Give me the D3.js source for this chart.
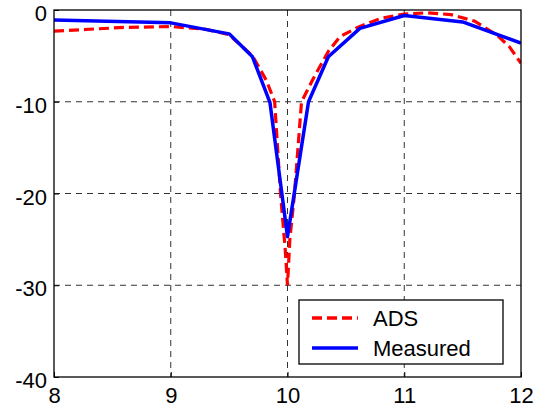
<!DOCTYPE html>
<html><head><meta charset="utf-8">
<script src="https://cdn.jsdelivr.net/npm/d3@7"></script>
<style>body{margin:0;background:#fff}text{font-family:"Liberation Sans",Arial,sans-serif}</style>
</head><body>
<svg id="c" width="541" height="410"></svg>
<script>
const xTicks = [8, 9, 10, 11, 12];
const yTicks = [0, -10, -20, -30, -40];
const adsX = [8, 8.3, 8.6, 9, 9.3, 9.5, 9.7, 9.82, 9.89, 9.94, 9.98, 10.0, 10.02, 10.06, 10.12, 10.22, 10.35, 10.45, 10.6, 10.8, 11, 11.2, 11.4, 11.6, 11.8, 11.9, 12];
const adsY = [-2.3, -2.1, -1.9, -1.8, -2.1, -2.7, -5.0, -7.7, -10, -20, -26, -30, -25, -20, -10, -7.5, -4.5, -2.9, -1.9, -0.9, -0.45, -0.3, -0.5, -1.2, -2.8, -4.0, -5.8];
const measX = [8, 9, 9.5, 9.7, 9.85, 10, 10.18, 10.35, 10.62, 11, 11.5, 12];
const measY = [-1.1, -1.4, -2.6, -5.1, -10.1, -24.7, -10, -5.1, -2.0, -0.6, -1.3, -3.6];
const seriesNames = ["ADS", "Measured"];

const svg = d3.select("#c");
const L = 54, R = 521, T = 10, B = 377;
const x = d3.scaleLinear().domain([8, 12]).range([L, R]);
const y = d3.scaleLinear().domain([-40, 0]).range([B, T]);

// grid
const g = svg.append("g");
g.selectAll(".gx").data(xTicks.slice(1, -1)).enter().append("line")
  .attr("x1", d => x(d)).attr("x2", d => x(d)).attr("y1", T).attr("y2", B)
  .attr("stroke", "#333").attr("stroke-width", 1).attr("stroke-dasharray", "6,5");
g.selectAll(".gy").data(yTicks.slice(1, -1)).enter().append("line")
  .attr("y1", d => y(d)).attr("y2", d => y(d)).attr("x1", L).attr("x2", R)
  .attr("stroke", "#333").attr("stroke-width", 1).attr("stroke-dasharray", "6,5");

svg.append("defs").append("clipPath").attr("id", "clip").append("rect")
  .attr("x", L).attr("y", T).attr("width", R - L).attr("height", B - T);

const line = d3.line().x(d => x(d[0])).y(d => y(d[1]));
const adsData = adsX.map((v, i) => [v, adsY[i]]);
const measData = measX.map((v, i) => [v, measY[i]]);
const plot = svg.append("g").attr("clip-path", "url(#clip)");
plot.append("path").datum(adsData).attr("d", line).attr("fill", "none")
  .attr("stroke", "#ff0000").attr("stroke-width", 3.2).attr("stroke-dasharray", "10,5");
plot.append("path").datum(measData).attr("d", line).attr("fill", "none")
  .attr("stroke", "#0000ff").attr("stroke-width", 3.5).attr("stroke-linejoin", "round");

// box
svg.append("rect").attr("x", L).attr("y", T).attr("width", R - L).attr("height", B - T)
  .attr("fill", "none").attr("stroke", "#000").attr("stroke-width", 1.3);

// axes
const fmt = d => String(d);
const xa = svg.append("g").attr("transform", `translate(0,${B})`)
  .call(d3.axisBottom(x).tickValues(xTicks).tickSize(-5).tickPadding(10).tickFormat(fmt));
const ya = svg.append("g").attr("transform", `translate(${L},0)`)
  .call(d3.axisLeft(y).tickValues(yTicks).tickSize(-5).tickPadding(7).tickFormat(fmt));
[xa, ya].forEach(a => {
  a.select(".domain").remove();
  a.selectAll("text").attr("font-size", 22).attr("fill", "#000")
    .attr("font-family", "'Liberation Sans', Arial, sans-serif");
  a.selectAll("line").attr("stroke", "#000");
});
xa.selectAll("text").attr("dy", "0.71em");
ya.selectAll("text").attr("dy", "0.48em");

// legend
const lg = svg.append("g");
lg.append("rect").attr("x", 299).attr("y", 300).attr("width", 204).attr("height", 64)
  .attr("fill", "#fff").attr("stroke", "#000").attr("stroke-width", 1.3);
const styles = [{c: "#ff0000", d: "10,5"}, {c: "#0000ff", d: null}];
seriesNames.forEach((n, i) => {
  const cy = 318 + i * 30;
  lg.append("line").attr("x1", 312).attr("x2", 358).attr("y1", cy).attr("y2", cy)
    .attr("stroke", styles[i].c).attr("stroke-width", 3.5)
    .attr("stroke-dasharray", styles[i].d);
  lg.append("text").attr("x", 373).attr("y", cy).attr("dy", "0.36em")
    .attr("font-size", 22).text(n);
});
</script>
</body></html>
